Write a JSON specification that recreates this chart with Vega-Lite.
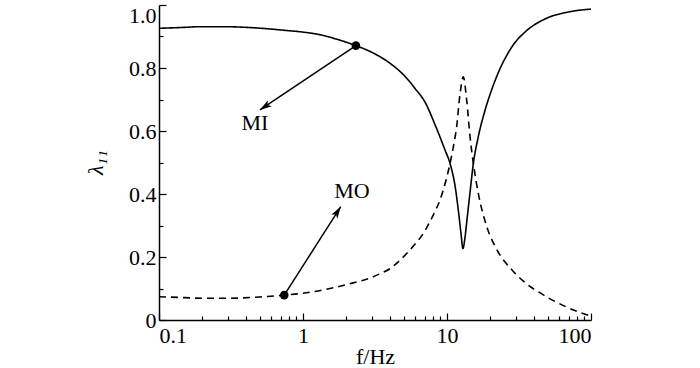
{
  "$schema": "https://vega.github.io/schema/vega-lite/v6.json",
  "width": 432,
  "height": 315,
  "autosize": {"type": "none"},
  "padding": {"left": 159, "top": 5, "right": 109, "bottom": 48},
  "background": "white",
  "config": {
    "view": {"stroke": null},
    "axis": {
      "grid": false,
      "domainColor": "black",
      "domainWidth": 1.5,
      "tickColor": "black",
      "tickWidth": 1.2,
      "labelFont": "Times New Roman, Liberation Serif, serif",
      "labelFontSize": 22,
      "labelColor": "black",
      "titleFont": "Times New Roman, Liberation Serif, serif",
      "titleFontSize": 22,
      "titleFontWeight": "normal",
      "titleColor": "black"
    }
  },
  "datasets": {
    "curves": [
      {"f": 0.1, "v": 0.926, "s": "MI"},
      {"f": 0.15, "v": 0.929, "s": "MI"},
      {"f": 0.19, "v": 0.931, "s": "MI"},
      {"f": 0.3, "v": 0.931, "s": "MI"},
      {"f": 0.406, "v": 0.929, "s": "MI"},
      {"f": 0.55, "v": 0.925, "s": "MI"},
      {"f": 0.77, "v": 0.919, "s": "MI"},
      {"f": 1.0, "v": 0.914, "s": "MI"},
      {"f": 1.3, "v": 0.906, "s": "MI"},
      {"f": 1.7, "v": 0.892, "s": "MI"},
      {"f": 2.33, "v": 0.871, "s": "MI"},
      {"f": 3.0, "v": 0.850, "s": "MI"},
      {"f": 4.02, "v": 0.815, "s": "MI"},
      {"f": 5.0, "v": 0.778, "s": "MI"},
      {"f": 6.0, "v": 0.735, "s": "MI"},
      {"f": 7.03, "v": 0.692, "s": "MI"},
      {"f": 8.26, "v": 0.62, "s": "MI"},
      {"f": 9.68, "v": 0.54, "s": "MI"},
      {"f": 10.5, "v": 0.497, "s": "MI"},
      {"f": 11.4, "v": 0.423, "s": "MI"},
      {"f": 11.98, "v": 0.349, "s": "MI"},
      {"f": 12.5, "v": 0.276, "s": "MI"},
      {"f": 12.9, "v": 0.227, "s": "MI"},
      {"f": 13.3, "v": 0.258, "s": "MI"},
      {"f": 13.7, "v": 0.31, "s": "MI"},
      {"f": 14.45, "v": 0.405, "s": "MI"},
      {"f": 15.24, "v": 0.497, "s": "MI"},
      {"f": 16.5, "v": 0.582, "s": "MI"},
      {"f": 18.4, "v": 0.667, "s": "MI"},
      {"f": 20.4, "v": 0.73, "s": "MI"},
      {"f": 23.3, "v": 0.797, "s": "MI"},
      {"f": 26.0, "v": 0.84, "s": "MI"},
      {"f": 28.8, "v": 0.873, "s": "MI"},
      {"f": 35.0, "v": 0.915, "s": "MI"},
      {"f": 49.2, "v": 0.958, "s": "MI"},
      {"f": 70.0, "v": 0.978, "s": "MI"},
      {"f": 100.0, "v": 0.987, "s": "MI"},
      {"f": 0.1, "v": 0.074, "s": "MO"},
      {"f": 0.15, "v": 0.071, "s": "MO"},
      {"f": 0.2, "v": 0.069, "s": "MO"},
      {"f": 0.3, "v": 0.069, "s": "MO"},
      {"f": 0.5, "v": 0.073, "s": "MO"},
      {"f": 0.741, "v": 0.079, "s": "MO"},
      {"f": 1.0, "v": 0.085, "s": "MO"},
      {"f": 1.54, "v": 0.1, "s": "MO"},
      {"f": 2.2, "v": 0.117, "s": "MO"},
      {"f": 2.92, "v": 0.133, "s": "MO"},
      {"f": 3.43, "v": 0.147, "s": "MO"},
      {"f": 4.02, "v": 0.163, "s": "MO"},
      {"f": 4.72, "v": 0.19, "s": "MO"},
      {"f": 5.84, "v": 0.235, "s": "MO"},
      {"f": 7.03, "v": 0.283, "s": "MO"},
      {"f": 7.62, "v": 0.313, "s": "MO"},
      {"f": 8.26, "v": 0.345, "s": "MO"},
      {"f": 8.94, "v": 0.381, "s": "MO"},
      {"f": 9.42, "v": 0.413, "s": "MO"},
      {"f": 10.5, "v": 0.497, "s": "MO"},
      {"f": 11.07, "v": 0.55, "s": "MO"},
      {"f": 11.67, "v": 0.614, "s": "MO"},
      {"f": 12.3, "v": 0.715, "s": "MO"},
      {"f": 12.97, "v": 0.772, "s": "MO"},
      {"f": 13.7, "v": 0.698, "s": "MO"},
      {"f": 14.45, "v": 0.582, "s": "MO"},
      {"f": 15.24, "v": 0.497, "s": "MO"},
      {"f": 16.5, "v": 0.402, "s": "MO"},
      {"f": 18.9, "v": 0.296, "s": "MO"},
      {"f": 22.1, "v": 0.225, "s": "MO"},
      {"f": 28.8, "v": 0.155, "s": "MO"},
      {"f": 35.0, "v": 0.118, "s": "MO"},
      {"f": 44.3, "v": 0.086, "s": "MO"},
      {"f": 67.8, "v": 0.041, "s": "MO"},
      {"f": 100.0, "v": 0.012, "s": "MO"}
    ],
    "arrows": [
      {"name": "MI", "f": 2.33, "v": 0.871, "f2": 0.502, "v2": 0.667},
      {"name": "MO", "f": 0.741, "v": 0.079, "f2": 1.83, "v2": 0.36}
    ],
    "labels": [
      {"name": "MI", "f": 0.464, "v": 0.624},
      {"name": "MO", "f": 2.19, "v": 0.408}
    ]
  },
  "layer": [
    {
      "data": {"name": "curves"},
      "mark": {"type": "line", "color": "black", "strokeWidth": 1.6, "interpolate": "monotone"},
      "encoding": {
        "x": {
          "field": "f", "type": "quantitative",
          "scale": {"type": "log", "domain": [0.1, 100], "nice": false},
          "axis": {
            "orient": "bottom",
            "values": [0.1, 1, 10, 100],
            "format": "~g",
            "tickSize": -7,
            "labelPadding": 12,
            "title": "f/Hz",
            "titleY": 43,
            "titleBaseline": "alphabetic"
          }
        },
        "y": {
          "field": "v", "type": "quantitative",
          "scale": {"domain": [0, 1], "nice": false},
          "axis": {
            "orient": "left",
            "values": [0, 0.2, 0.4, 0.6, 0.8, 1.0],
            "labelExpr": "datum.value == 0 ? '0' : format(datum.value, '.1f')",
            "labelBaseline": {"condition": {"test": "datum.value == 1", "value": "top"}, "value": "middle"},
            "tickSize": -7,
            "labelPadding": 10,
            "title": "λ₁₁",
            "titleFontStyle": "italic",
            "titleAngle": -90,
            "titleX": -64,
            "titleY": 157,
            "titleAlign": "center",
            "titleBaseline": "middle"
          }
        },
        "strokeDash": {
          "field": "s", "type": "nominal",
          "scale": {"domain": ["MI", "MO"], "range": [[1, 0], [7, 5]]},
          "legend": null
        }
      }
    },
    {
      "data": {"name": "arrows"},
      "mark": {"type": "rule", "color": "black", "strokeWidth": 1.5},
      "encoding": {
        "x": {
          "field": "f", "type": "quantitative",
          "axis": {
            "orient": "bottom",
            "values": [0.2, 0.3, 0.4, 0.5, 0.6, 0.7, 0.8, 0.9, 2, 3, 4, 5, 6, 7, 8, 9, 20, 30, 40, 50, 60, 70, 80, 90],
            "tickSize": -4,
            "labels": false,
            "domain": false,
            "title": null
          }
        },
        "y": {
          "field": "v", "type": "quantitative",
          "axis": {
            "orient": "left",
            "values": [0.1, 0.3, 0.5, 0.7, 0.9],
            "tickSize": -4,
            "labels": false,
            "domain": false,
            "title": null
          }
        },
        "x2": {"field": "f2"},
        "y2": {"field": "v2"}
      }
    },
    {
      "data": {"name": "arrows"},
      "mark": {"type": "point", "filled": true, "color": "black", "opacity": 1, "size": 75},
      "encoding": {
        "x": {"field": "f", "type": "quantitative", "axis": null},
        "y": {"field": "v", "type": "quantitative", "axis": null}
      }
    },
    {
      "data": {"name": "arrows"},
      "transform": [{"filter": "datum.name == 'MI'"}],
      "mark": {"type": "point", "filled": true, "color": "black", "opacity": 1, "size": 144, "shape": "M0,0L0.6,2L0,1.5L-0.6,2Z", "angle": 236.3},
      "encoding": {
        "x": {"field": "f2", "type": "quantitative", "axis": null},
        "y": {"field": "v2", "type": "quantitative", "axis": null}
      }
    },
    {
      "data": {"name": "arrows"},
      "transform": [{"filter": "datum.name == 'MO'"}],
      "mark": {"type": "point", "filled": true, "color": "black", "opacity": 1, "size": 144, "shape": "M0,0L0.6,2L0,1.5L-0.6,2Z", "angle": 32.6},
      "encoding": {
        "x": {"field": "f2", "type": "quantitative", "axis": null},
        "y": {"field": "v2", "type": "quantitative", "axis": null}
      }
    },
    {
      "data": {"name": "labels"},
      "mark": {"type": "text", "font": "Times New Roman, Liberation Serif, serif", "fontSize": 22, "color": "black", "align": "center", "baseline": "middle"},
      "encoding": {
        "x": {"field": "f", "type": "quantitative", "axis": null},
        "y": {"field": "v", "type": "quantitative", "axis": null},
        "text": {"field": "name"}
      }
    }
  ],
  "resolve": {"axis": {"x": "independent", "y": "independent"}}
}
